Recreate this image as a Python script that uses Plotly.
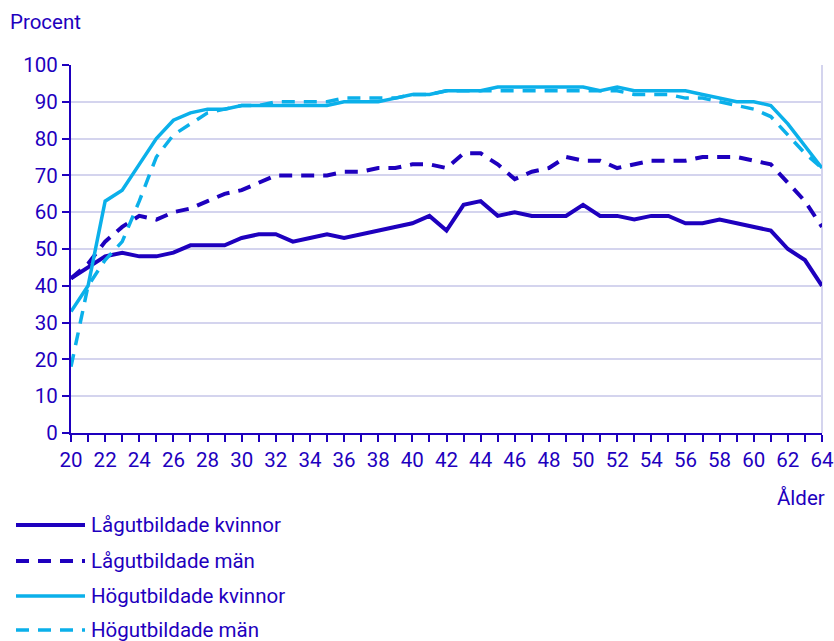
import plotly.graph_objects as go

ages = list(range(20, 65))
tick_labels = [str(a) if a % 2 == 0 else "" for a in ages]
y_ticks = list(range(0, 101, 10))

series_names = ["Lågutbildade kvinnor", "Lågutbildade män", "Högutbildade kvinnor", "Högutbildade män"]

lag_kvinnor = [42, 45, 48, 49, 48, 48, 49, 51, 51, 51, 53, 54, 54, 52, 53, 54, 53, 54, 55, 56,
               57, 59, 55, 62, 63, 59, 60, 59, 59, 59, 62, 59, 59, 58, 59, 59, 57, 57, 58, 57,
               56, 55, 50, 47, 40]
lag_man = [42, 46, 52, 56, 59, 58, 60, 61, 63, 65, 66, 68, 70, 70, 70, 70, 71, 71, 72, 72,
           73, 73, 72, 76, 76, 73, 69, 71, 72, 75, 74, 74, 72, 73, 74, 74, 74, 75, 75, 75,
           74, 73, 68, 63, 56]
hog_kvinnor = [33, 40, 63, 66, 73, 80, 85, 87, 88, 88, 89, 89, 89, 89, 89, 89, 90, 90, 90, 91,
               92, 92, 93, 93, 93, 94, 94, 94, 94, 94, 94, 93, 94, 93, 93, 93, 93, 92, 91, 90,
               90, 89, 84, 78, 72]
hog_man = [18, 40, 47, 52, 63, 75, 81, 84, 87, 88, 89, 89, 90, 90, 90, 90, 91, 91, 91, 91,
           92, 92, 93, 93, 93, 93, 93, 93, 93, 93, 93, 93, 93, 92, 92, 92, 91, 91, 90, 89,
           88, 86, 81, 76, 72]

DARK = "#1e00be"
LIGHT = "#0bb0ea"
GRID = "#d4d4ee"
TEXT = "#1e00be"
FONT = "Roboto"
FS = 20.5

styles = [
    dict(color=DARK, width=4, dash="solid"),
    dict(color=DARK, width=4, dash="13px,9px"),
    dict(color=LIGHT, width=3.5, dash="solid"),
    dict(color=LIGHT, width=3.5, dash="13px,9px"),
]
data = [lag_kvinnor, lag_man, hog_kvinnor, hog_man]

fig = go.Figure()
for name, vals, st in zip(series_names, data, styles):
    fig.add_trace(go.Scatter(x=ages, y=vals, mode="lines", name=name, line=st,
                             showlegend=False))

W, H = 834, 641
L, R, T, B = 71, 12, 65, 208
pw, ph = W - L - R, H - T - B


def px(x):
    return (x - L) / pw


def py(y):
    return (H - B - y) / ph


shapes = [dict(type="line", xref="paper", yref="paper", x0=1, x1=1, y0=0, y1=1,
               line=dict(color=GRID, width=2), layer="below")]
annotations = [
    dict(text="Procent", xref="paper", yref="paper", x=px(8), y=py(22), xanchor="left",
         yanchor="middle", showarrow=False, font=dict(size=FS, color=TEXT, family=FONT)),
    dict(text="Ålder", xref="paper", yref="paper", x=px(827), y=py(498), xanchor="right",
         yanchor="middle", showarrow=False, font=dict(size=FS, color=TEXT, family=FONT)),
]
legend_rows = [525, 561, 596, 630]
for name, st, ry in zip(series_names, styles, legend_rows):
    shapes.append(dict(type="line", xref="paper", yref="paper", x0=px(16), x1=px(85),
                       y0=py(ry), y1=py(ry), line=st))
    annotations.append(dict(text=name, xref="paper", yref="paper", x=px(89), y=py(ry),
                            xanchor="left", yanchor="middle", showarrow=False,
                            font=dict(size=FS, color=TEXT, family=FONT)))

fig.update_layout(
    width=W, height=H, autosize=False,
    margin=dict(l=L, r=R, t=T, b=B, autoexpand=False),
    paper_bgcolor="white", plot_bgcolor="white",
    font=dict(family=FONT, size=FS, color=TEXT),
    shapes=shapes, annotations=annotations,
    showlegend=False,
)
fig.update_xaxes(range=[20, 64], tickvals=ages, ticktext=tick_labels, ticks="outside",
                 ticklen=7, tickwidth=2, tickcolor=DARK, showline=True, linecolor=DARK,
                 linewidth=2, showgrid=False, zeroline=False,
                 tickfont=dict(size=FS, color=TEXT, family=FONT))
fig.update_yaxes(range=[0, 100], tickvals=y_ticks, ticks="outside", ticklen=7, tickwidth=2,
                 tickcolor=DARK, showline=True, linecolor=DARK, linewidth=2,
                 showgrid=True, gridcolor=GRID, gridwidth=2, zeroline=False,
                 tickfont=dict(size=FS, color=TEXT, family=FONT))

fig.write_html(
    "out.html",
    config={"displayModeBar": False, "responsive": False},
    default_width="834px", default_height="641px",
    post_script="document.body.style.margin='0';document.body.style.overflow='hidden';"
                "document.documentElement.style.overflow='hidden';",
)
